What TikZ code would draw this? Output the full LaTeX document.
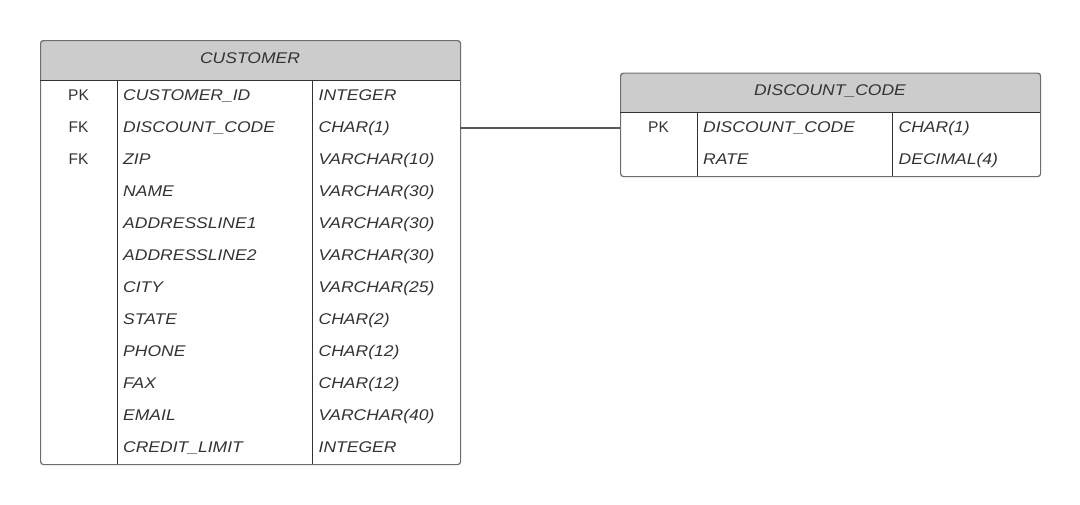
\documentclass[tikz,border=0pt]{standalone}
\usepackage{fontspec}
\setmainfont{Liberation Sans}[ItalicFeatures={FakeStretch=1.13}]
\definecolor{hdr}{HTML}{CCCCCC}
\definecolor{txt}{HTML}{333333}
\definecolor{frame}{HTML}{6E6E6E}
\definecolor{divc}{HTML}{333333}
\begin{document}
\begin{tikzpicture}[x=1pt,y=-1pt,
  font=\fontsize{15.5}{18}\selectfont,
  tbl/.style={draw=frame,line width=1.2pt,rounded corners=3pt,inner sep=0pt,anchor=north west},
  divline/.style={draw=divc,line width=1pt},
  keytxt/.style={anchor=base,text=txt,inner sep=0pt},
  fldtxt/.style={anchor=base west,text=txt,inner sep=0pt,font=\fontsize{15.5}{18}\selectfont\itshape},
  hdrtxt/.style={anchor=base,text=txt,inner sep=0pt,font=\fontsize{15.5}{18}\selectfont\itshape},
  conn/.style={draw=frame!80!black,line width=1.2pt}]
\useasboundingbox[fill=white] (0,0) rectangle (1080,504);

% ---------- CUSTOMER ----------
\begin{scope}
\clip[rounded corners=3pt] (40,40) rectangle (460,464);
\fill[hdr] (40,40) rectangle (460,80);
\end{scope}
\node[tbl,minimum width=420pt,minimum height=424pt] (cust) at (40,40) {};
\draw[divline] (40,80) -- (460,80);
\draw[divline] (117.5,80) -- (117.5,464);
\draw[divline] (312.5,80) -- (312.5,464);
\node[hdrtxt] (custhdr) at (250,63.3) {CUSTOMER};

\foreach \k/\n/\t [count=\i from 0] in {
  PK/CUSTOMER\_ID/INTEGER,
  FK/DISCOUNT\_CODE/CHAR(1),
  FK/ZIP/VARCHAR(10),
  /NAME/VARCHAR(30),
  /ADDRESSLINE1/VARCHAR(30),
  /ADDRESSLINE2/VARCHAR(30),
  /CITY/VARCHAR(25),
  /STATE/CHAR(2),
  /PHONE/CHAR(12),
  /FAX/CHAR(12),
  /EMAIL/VARCHAR(40),
  /CREDIT\_LIMIT/INTEGER}{
  \node[keytxt] (ck\i) at (78.5,100+32*\i) {\k};
  \node[fldtxt] (cn\i) at (123,100+32*\i) {\n};
  \node[fldtxt] (ct\i) at (318.5,100+32*\i) {\t};
}
\coordinate (custfk) at (460,128);

% ---------- DISCOUNT_CODE ----------
\begin{scope}
\clip[rounded corners=3pt] (620,72.5) rectangle (1040,176);
\fill[hdr] (620,72.5) rectangle (1040,112.5);
\end{scope}
\node[tbl,minimum width=420pt,minimum height=103.5pt] (disc) at (620,72.5) {};
\draw[divline] (620,112.5) -- (1040,112.5);
\draw[divline] (697.5,112.5) -- (697.5,176);
\draw[divline] (892.5,112.5) -- (892.5,176);
\node[hdrtxt] (dischdr) at (830,95.7) {DISCOUNT\_CODE};

\node[keytxt] (dk0) at (658.5,132.3) {PK};
\node[fldtxt] (dn0) at (703,132.3) {DISCOUNT\_CODE};
\node[fldtxt] (dt0) at (898.5,132.3) {CHAR(1)};
\node[fldtxt] (dn1) at (703,164.3) {RATE};
\node[fldtxt] (dt1) at (898.5,164.3) {DECIMAL(4)};
\coordinate (discpk) at (620,128);

% ---------- connector ----------
\draw[conn] (custfk) -- (discpk);
\end{tikzpicture}
\end{document}
